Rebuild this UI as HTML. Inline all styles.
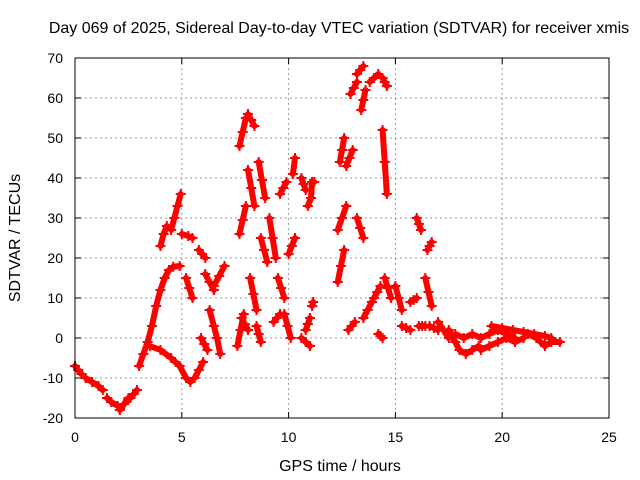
<!DOCTYPE html>
<html><head><meta charset="utf-8"><style>
body{margin:0;background:#fff;}
svg{display:block;font-family:"Liberation Sans",sans-serif;}
</style></head><body>
<svg id="chart" width="640" height="480" viewBox="0 0 640 480">
<rect width="640" height="480" fill="#fff"/>
<text x="339" y="33" font-size="16" text-anchor="middle" fill="#000">Day 069 of 2025, Sidereal Day-to-day VTEC variation (SDTVAR) for receiver xmis</text>
<text x="340" y="471" font-size="16" text-anchor="middle">GPS time / hours</text>
<text transform="translate(20,238) rotate(-90)" font-size="16" text-anchor="middle">SDTVAR / TECUs</text>
<g id="grid"></g><g id="axes"></g><g id="marks"></g>
<rect x="75" y="58" width="534" height="360" fill="none" stroke="#000" stroke-width="1"/>
</svg>
<script>
const xTicks=[0,5,10,15,20,25];
const yTicks=[-20,-10,0,10,20,30,40,50,60,70];
const arcs=[
[[0,-7],[0.15,-8],[0.3,-9]],
[[0.5,-10],[0.8,-11],[1.1,-12],[1.3,-13]],
[[1.5,-15],[1.7,-16],[2.0,-17]],
[[2.1,-18],[2.3,-16.5],[2.5,-15]],
[[2.6,-15],[2.75,-14],[2.9,-13]],
[[3.0,-7],[3.2,-4],[3.4,-1],[3.6,3],[3.8,8],[4.0,12],[4.2,15],[4.4,17],[4.6,17.8],[4.9,18]],
[[4.0,23],[4.15,26],[4.3,28]],
[[4.5,27],[4.65,30],[4.8,33],[4.95,36]],
[[3.5,-2],[4.0,-3],[4.5,-5],[4.9,-7],[5.2,-10],[5.4,-11]],
[[5.6,-10],[5.8,-8],[6.0,-6]],
[[5.0,26],[5.3,25.5],[5.5,25]],
[[5.2,15],[5.35,12.5],[5.5,10]],
[[5.8,22],[5.95,21],[6.1,20]],
[[6.1,16],[6.3,14],[6.5,12]],
[[6.5,13],[6.75,15.5],[7.0,18]],
[[5.9,0],[6.05,-1.5],[6.2,-3]],
[[6.3,7],[6.5,3],[6.65,0],[6.8,-4]],
[[7.6,-2],[7.75,2],[7.9,6]],
[[7.7,26],[7.85,29.5],[8.0,33]],
[[7.7,48],[7.85,51.5],[8.0,55]],
[[8.1,56],[8.25,54.5],[8.4,53]],
[[8.1,42],[8.25,37.5],[8.4,33]],
[[8.2,15],[8.35,11],[8.5,7]],
[[7.8,5],[7.95,3.5],[8.1,2]],
[[8.5,3],[8.6,1],[8.7,-1]],
[[8.6,44],[8.75,39.5],[8.9,35]],
[[8.7,25],[8.85,22],[9.0,19]],
[[9.1,30],[9.25,25],[9.4,20]],
[[9.3,4],[9.45,5],[9.6,6]],
[[9.5,15],[9.65,12.5],[9.8,10]],
[[9.6,36],[9.75,37.5],[9.9,39]],
[[9.8,6],[9.95,3],[10.1,0]],
[[10.0,21],[10.15,23],[10.3,25]],
[[10.2,41],[10.3,45]],
[[10.6,40],[10.7,38.5],[10.8,37]],
[[10.6,0],[10.8,-1],[11.0,-2]],
[[10.8,2],[10.9,3.5],[11.0,5]],
[[10.9,33],[11.05,35],[11.1,39],[11.2,39]],
[[11.1,8],[11.15,9]],
[[12.3,14],[12.45,18],[12.6,22]],
[[12.3,27],[12.5,30],[12.7,33]],
[[12.4,44],[12.5,47],[12.6,50]],
[[12.7,43],[12.85,45],[13.0,47]],
[[12.8,2],[12.95,3],[13.1,4]],
[[12.9,61],[13.05,62.5],[13.2,64]],
[[13.2,66],[13.35,67],[13.5,68]],
[[13.2,30],[13.35,27.5],[13.5,25]],
[[13.4,57],[13.5,59.5],[13.6,62]],
[[13.5,5],[13.7,7],[13.9,9]],
[[13.8,64],[14.0,65],[14.2,66]],
[[14.0,10],[14.15,11.5],[14.3,13]],
[[14.4,65],[14.5,64],[14.6,63]],
[[14.4,52],[14.5,44],[14.6,36]],
[[14.2,1],[14.3,0.5],[14.4,0]],
[[14.5,15],[14.65,12.5],[14.8,10]],
[[15.0,13],[15.15,10],[15.3,7]],
[[15.3,3],[15.5,2.5],[15.7,2]],
[[15.7,9],[15.85,9.5],[16.0,10]],
[[16.0,30],[16.1,28.5],[16.2,27]],
[[16.1,3],[16.25,3],[16.4,3]],
[[16.5,22],[16.6,23],[16.7,24]],
[[16.4,15],[16.55,11.5],[16.7,8]],
[[16.6,3],[16.8,2.5],[17.0,2]],
[[17.0,4],[17.25,2],[17.5,0]],
[[17.5,2],[17.8,-1],[18.0,-3],[18.3,-4],[18.6,-3],[18.9,-2]],
[[17.8,1],[18.2,0],[18.6,1],[19.0,0],[19.4,1],[19.8,2],[20.2,1],[20.6,0]],
[[19.0,-3],[19.4,-2],[19.8,-1],[20.2,0],[20.6,-1],[21.0,0]],
[[19.5,3],[20.0,2.5],[20.5,2],[21.0,1.5],[21.5,1],[22.0,0.5],[22.3,0]],
[[21.2,1],[21.6,0],[22.0,-2],[22.3,-1],[22.7,-1]]
];
const NS='http://www.w3.org/2000/svg';
const X=t=>75+t*(534/25);
const Y=v=>418-(v+20)*4;
const grid=document.getElementById('grid'),axes=document.getElementById('axes'),marks=document.getElementById('marks');
function mk(tag,attrs,parent){const e=document.createElementNS(NS,tag);for(const k in attrs)e.setAttribute(k,attrs[k]);parent.appendChild(e);return e;}
xTicks.forEach(t=>{
 if(t>0&&t<25){const g=mk('line',{x1:X(t),x2:X(t),y1:58,y2:418,stroke:'#999','stroke-dasharray':'2,3'},grid);
 
 }
 mk('line',{x1:X(t),x2:X(t),y1:418,y2:412,stroke:'#000'},axes);
 mk('line',{x1:X(t),x2:X(t),y1:58,y2:64,stroke:'#000'},axes);
 const l=mk('text',{x:X(t),y:442,'font-size':14,'text-anchor':'middle'},axes);l.textContent=t;
 
 
});
yTicks.forEach(v=>{
 if(v>-20&&v<70){const g=mk('line',{x1:75,x2:609,y1:Y(v),y2:Y(v),stroke:'#999','stroke-dasharray':'2,3'},grid);
 
 }
 mk('line',{x1:75,x2:81,y1:Y(v),y2:Y(v),stroke:'#000'},axes);
 mk('line',{x1:603,x2:609,y1:Y(v),y2:Y(v),stroke:'#000'},axes);
 const l=mk('text',{x:63,y:Y(v)+5,'font-size':14,'text-anchor':'end'},axes);l.textContent=v;
 
 
});
arcs.forEach(a=>{
 const p=mk('polyline',{points:a.map(d=>X(d[0])+','+Y(d[1])).join(' '),fill:'none',stroke:'#f00','stroke-width':6,'stroke-linecap':'round'},marks);
 
 
 a.forEach(d=>{
  const x=X(d[0]),y=Y(d[1]);
  const m=mk('path',{d:`M${x-5},${y}H${x+5}M${x},${y-5}V${y+5}`,stroke:'#f00','stroke-width':2},marks);
  
  
 });
});
</script>
</body></html>
